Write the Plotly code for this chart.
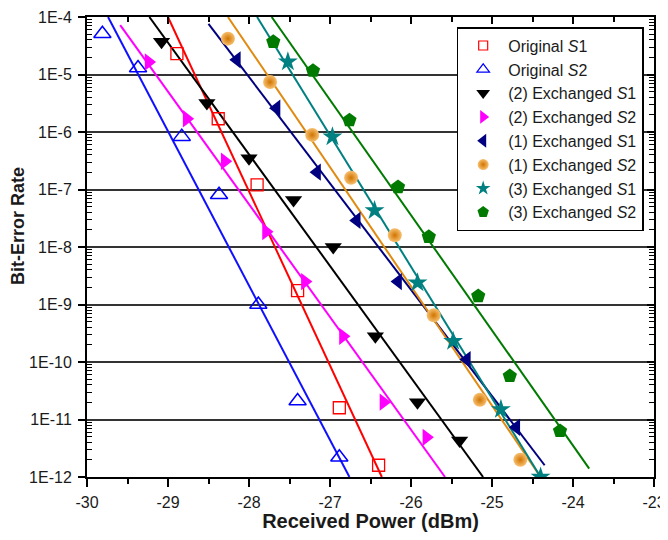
import plotly.graph_objects as go

# ---------------- data ----------------
names = ["Original <i>S</i>1", "Original <i>S</i>2",
         "(2) Exchanged <i>S</i>1", "(2) Exchanged <i>S</i>2",
         "(1) Exchanged <i>S</i>1", "(1) Exchanged <i>S</i>2",
         "(3) Exchanged <i>S</i>1", "(3) Exchanged <i>S</i>2"]

orig_s1_x = [-28.89, -28.38, -27.90, -27.40, -26.885, -26.40]
orig_s1_y = [2.3e-5, 1.7e-6, 1.2e-7, 1.75e-9, 1.6e-11, 1.6e-12]
orig_s1_fit_x = [-29.0, -26.36]

orig_s2_x = [-29.81, -29.37, -28.83, -28.37, -27.885, -27.40, -26.885]
orig_s2_y = [5.1e-5, 1.3e-5, 8.3e-7, 8.1e-8, 1.0e-9, 2.1e-11, 2.2e-12]
orig_s2_fit_x = [-29.74, -26.76]

ex2_s1_x = [-29.08, -28.52, -28.0, -27.45, -26.96, -26.44, -25.92, -25.40]
ex2_s1_y = [3.7e-5, 3.2e-6, 3.5e-7, 6.6e-8, 1.0e-8, 2.8e-10, 2.0e-11, 4.3e-12]
ex2_s1_fit_x = [-29.23, -25.11]

ex2_s2_x = [-29.24, -28.77, -28.30, -27.79, -27.31, -26.84, -26.34, -25.81]
ex2_s2_y = [1.65e-5, 1.7e-6, 3.1e-7, 1.85e-8, 2.5e-9, 2.8e-10, 2.0e-11, 4.9e-12]
ex2_s2_fit_x = [-29.59, -25.58]

ex1_s1_x = [-28.15, -27.66, -27.16, -26.67, -26.16, -25.31, -24.70]
ex1_s1_y = [1.8e-5, 2.6e-6, 2.0e-7, 2.9e-8, 2.5e-9, 1.1e-10, 7.3e-12]
ex1_s1_fit_x = [-28.50, -24.35]

ex1_s2_x = [-28.26, -27.74, -27.22, -26.74, -26.20, -25.72, -25.15, -24.65]
ex1_s2_y = [4.2e-5, 7.4e-6, 8.9e-7, 1.6e-7, 1.6e-8, 6.5e-10, 2.2e-11, 2.0e-12]
ex1_s2_fit_x = [-28.26, -24.40]

ex3_s1_x = [-27.52, -26.97, -26.45, -25.92, -25.48, -24.89, -24.40]
ex3_s1_y = [1.66e-5, 8.3e-7, 4.3e-8, 2.4e-9, 2.3e-10, 1.5e-11, 1.0e-12]
ex3_s1_fit_x = [-27.90, -24.40]

ex3_s2_x = [-27.70, -27.21, -26.76, -26.16, -25.78, -25.17, -24.78, -24.16]
ex3_s2_y = [3.7e-5, 1.16e-5, 1.6e-6, 1.1e-7, 1.5e-8, 1.4e-9, 5.7e-11, 6.3e-12]
ex3_s2_fit_x = [-27.72, -23.80]

fit_y_default = [1e-4, 1e-12]
ex2_s2_fit_y = [7.2e-5, 1e-12]
ex1_s1_fit_y = [7.6e-5, 1.6e-12]
ex3_s2_fit_y = [1e-4, 1.4e-12]

ytick_vals = [1e-4, 1e-5, 1e-6, 1e-7, 1e-8, 1e-9, 1e-10, 1e-11, 1e-12]
ytick_text = ["1E-4", "1E-5", "1E-6", "1E-7", "1E-8", "1E-9", "1E-10", "1E-11", "1E-12"]
xtick_vals = [-30, -29, -28, -27, -26, -25, -24, -23]
xtick_text = ["-30", "-29", "-28", "-27", "-26", "-25", "-24", "-23"]

# ---------------- styles ----------------
series = [
    dict(x=orig_s1_x, y=orig_s1_y, fx=orig_s1_fit_x, fy=fit_y_default,
         color="#ff0000", lc="#ff0000", symbol="square-open", size=12, lsize=9, lw=1.3),
    dict(x=orig_s2_x, y=orig_s2_y, fx=orig_s2_fit_x, fy=fit_y_default,
         color="#0000ff", lc="#1010ff", symbol="triangle-up-open", size=15, lsize=11, lw=1.5),
    dict(x=ex2_s1_x, y=ex2_s1_y, fx=ex2_s1_fit_x, fy=fit_y_default,
         color="#000000", lc="#000000", symbol="triangle-down", size=15, lsize=12, lw=0),
    dict(x=ex2_s2_x, y=ex2_s2_y, fx=ex2_s2_fit_x, fy=ex2_s2_fit_y,
         color="#ff00ff", lc="#ff00ff", symbol="triangle-right", size=15, lsize=12, lw=0),
    dict(x=ex1_s1_x, y=ex1_s1_y, fx=ex1_s1_fit_x, fy=ex1_s1_fit_y,
         color="#000080", lc="#000080", symbol="triangle-left", size=15, lsize=12, lw=0),
    dict(x=ex1_s2_x, y=ex1_s2_y, fx=ex1_s2_fit_x, fy=fit_y_default,
         color="#f8c070", lc="#e08a10", symbol="circle", size=14, lsize=11, lw=0, grad="#d07400"),
    dict(x=ex3_s1_x, y=ex3_s1_y, fx=ex3_s1_fit_x, fy=fit_y_default,
         color="#008080", lc="#008080", symbol="star", size=15, lsize=11, lw=0),
    dict(x=ex3_s2_x, y=ex3_s2_y, fx=ex3_s2_fit_x, fy=ex3_s2_fit_y,
         color="#007a00", lc="#007a00", symbol="pentagon", size=15, lsize=12, lw=0),
]

fig = go.Figure()

# fit lines
for s in series:
    fig.add_trace(go.Scatter(x=s["fx"], y=s["fy"], mode="lines",
                             line=dict(color=s["lc"], width=2),
                             showlegend=False, hoverinfo="skip"))

# data markers
for name, s in zip(names, series):
    mk = dict(symbol=s["symbol"], size=s["size"], color=s["color"])
    if s["symbol"].endswith("open"):
        mk["line"] = dict(color=s["color"], width=s["lw"])
    else:
        mk["line"] = dict(width=0)
    if "grad" in s:
        mk["gradient"] = dict(type="radial", color=s["grad"])
    fig.add_trace(go.Scatter(x=s["x"], y=s["y"], mode="markers", marker=mk,
                             name=name, showlegend=False))

# legend-only entries (smaller markers like the reference)
for name, s in zip(names, series):
    mk = dict(symbol=s["symbol"], size=s["lsize"], color=s["color"])
    if s["symbol"].endswith("open"):
        mk["line"] = dict(color=s["color"], width=1.2)
    else:
        mk["line"] = dict(width=0)
    if "grad" in s:
        mk["gradient"] = dict(type="radial", color=s["grad"])
    fig.add_trace(go.Scatter(x=[None], y=[None], mode="markers", marker=mk,
                             name=name, showlegend=True))

# invisible trace to activate mirror axes
fig.add_trace(go.Scatter(x=[-30], y=[1e-12], xaxis="x2", yaxis="y2",
                         mode="markers", marker=dict(opacity=0),
                         showlegend=False, hoverinfo="skip"))

font_family = "Liberation Sans, Arial, sans-serif"
minor_log = [m * 10.0 ** e for e in range(-12, -4) for m in range(2, 10)]

fig.update_layout(
    width=660, height=524,
    margin=dict(l=79, r=14, t=9, b=55, autoexpand=False),
    paper_bgcolor="white", plot_bgcolor="white",
    font=dict(family=font_family, color="#1a1a1a", size=16),
    xaxis=dict(range=[-30, -23], tickmode="array", tickvals=xtick_vals, ticktext=xtick_text,
               ticks="outside", ticklen=8, tickwidth=1.5, tickcolor="#000", automargin=False,
               showline=True, linecolor="#000", linewidth=2, showgrid=False, zeroline=False,
               tickfont=dict(size=16), ticklabelstandoff=2,
               minor=dict(dtick=0.5, tick0=-30, ticks="outside", ticklen=5, tickwidth=1.5,
                          tickcolor="#000", showgrid=False),
               title=dict(text="<b>Received Power (dBm)</b>", font=dict(size=20), standoff=5)),
    yaxis=dict(type="log", range=[-12, -4], tickmode="array", tickvals=ytick_vals,
               ticktext=ytick_text, ticks="outside", ticklen=7, tickwidth=1.5, tickcolor="#000",
               showline=True, linecolor="#000", linewidth=2, automargin=False,
               showgrid=True, gridcolor="#333333", gridwidth=1.6, zeroline=False,
               tickfont=dict(size=16), ticklabelstandoff=3,
               minor=dict(tickmode="array", tickvals=minor_log, ticks="inside", ticklen=5,
                          tickwidth=1, tickcolor="#000", showgrid=False)),
    xaxis2=dict(overlaying="x", side="top", matches="x", range=[-30, -23], automargin=False,
                tickmode="array", tickvals=xtick_vals, ticks="inside", ticklen=7, tickwidth=1.5,
                tickcolor="#000", showticklabels=False, showline=True, linecolor="#000",
                linewidth=2, showgrid=False, zeroline=False,
                minor=dict(dtick=0.5, tick0=-30, ticks="inside", ticklen=5, tickwidth=1.5,
                           tickcolor="#000", showgrid=False)),
    yaxis2=dict(overlaying="y", side="right", type="log", range=[-12, -4], automargin=False,
                tickmode="array", tickvals=ytick_vals, ticks="inside", ticklen=7, tickwidth=1.5,
                tickcolor="#000", showticklabels=False, showline=True, linecolor="#000",
                linewidth=2, showgrid=False, zeroline=False,
                minor=dict(tickmode="array", tickvals=minor_log, ticks="inside", ticklen=5,
                           tickwidth=1, tickcolor="#000", showgrid=False)),
    legend=dict(x=0.652, y=0.978, xanchor="left", yanchor="top",
                bgcolor="white", bordercolor="#000", borderwidth=1.5,
                font=dict(size=16, family=font_family, color="#1a1a1a"),
                tracegroupgap=0, itemwidth=40),
    annotations=[dict(text="<b>Bit-Error Rate</b>", xref="paper", yref="paper",
                      x=-0.1217, y=0.5456, xanchor="center", yanchor="middle",
                      textangle=-90, showarrow=False, font=dict(size=18))],
)

fig.write_html("out.html")
